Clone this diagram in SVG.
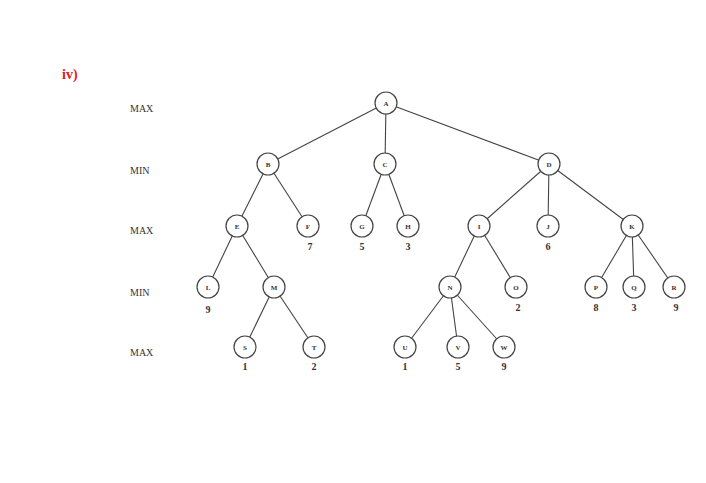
<svg xmlns="http://www.w3.org/2000/svg" width="706" height="483" viewBox="0 0 706 483">
<style>
.n circle{fill:#fff;stroke:#444;stroke-width:1.2}
.n text{font-family:"Liberation Serif",serif;font-size:7px;font-weight:bold;fill:#333;text-anchor:middle}
.v{font-family:"Liberation Serif",serif;font-size:10px;font-weight:bold;fill:#333;text-anchor:middle}
.lv{font-family:"Liberation Serif",serif;font-size:10px;fill:#333}
#edges line{stroke:#444;stroke-width:1.1}
</style>
<rect width="706" height="483" fill="#fff"/>
<text x="62" y="79" font-family="Liberation Serif,serif" font-size="14" font-weight="bold" fill="#e02020">iv)</text>
<text class="lv" x="130" y="112">MAX</text>
<text class="lv" x="130" y="174">MIN</text>
<text class="lv" x="130" y="234">MAX</text>
<text class="lv" x="130" y="296">MIN</text>
<text class="lv" x="130" y="356">MAX</text>
<g id="edges">
<line x1="386" y1="103" x2="268" y2="164"/><line x1="386" y1="103" x2="385" y2="164"/><line x1="386" y1="103" x2="549" y2="164"/>
<line x1="268" y1="164" x2="237" y2="226"/><line x1="268" y1="164" x2="308" y2="226"/>
<line x1="385" y1="164" x2="362" y2="226"/><line x1="385" y1="164" x2="408" y2="226"/>
<line x1="549" y1="164" x2="479" y2="226"/><line x1="549" y1="164" x2="548" y2="226"/><line x1="549" y1="164" x2="632" y2="226"/>
<line x1="237" y1="226" x2="208" y2="287"/><line x1="237" y1="226" x2="274" y2="287"/>
<line x1="479" y1="226" x2="450" y2="287"/><line x1="479" y1="226" x2="516" y2="287"/>
<line x1="632" y1="226" x2="596" y2="287"/><line x1="632" y1="226" x2="634" y2="287"/><line x1="632" y1="226" x2="674" y2="287"/>
<line x1="274" y1="287" x2="245" y2="347"/><line x1="274" y1="287" x2="314" y2="347"/>
<line x1="450" y1="287" x2="405" y2="347"/><line x1="450" y1="287" x2="458" y2="347"/><line x1="450" y1="287" x2="504" y2="347"/>
</g>
<g id="A" class="n"><circle cx="386" cy="103" r="11"/><text x="386" y="105.5">A</text></g>
<g id="B" class="n"><circle cx="268" cy="164" r="11"/><text x="268" y="166.5">B</text></g>
<g id="C" class="n"><circle cx="385" cy="164" r="11"/><text x="385" y="166.5">C</text></g>
<g id="D" class="n"><circle cx="549" cy="164" r="11"/><text x="549" y="166.5">D</text></g>
<g id="E" class="n"><circle cx="237" cy="226" r="11"/><text x="237" y="228.5">E</text></g>
<g id="F" class="n"><circle cx="308" cy="226" r="11"/><text x="308" y="228.5">F</text></g>
<g id="G" class="n"><circle cx="362" cy="226" r="11"/><text x="362" y="228.5">G</text></g>
<g id="H" class="n"><circle cx="408" cy="226" r="11"/><text x="408" y="228.5">H</text></g>
<g id="I" class="n"><circle cx="479" cy="226" r="11"/><text x="479" y="228.5">I</text></g>
<g id="J" class="n"><circle cx="548" cy="226" r="11"/><text x="548" y="228.5">J</text></g>
<g id="K" class="n"><circle cx="632" cy="226" r="11"/><text x="632" y="228.5">K</text></g>
<g id="L" class="n"><circle cx="208" cy="287" r="11"/><text x="208" y="289.5">L</text></g>
<g id="M" class="n"><circle cx="274" cy="287" r="11"/><text x="274" y="289.5">M</text></g>
<g id="N" class="n"><circle cx="450" cy="287" r="11"/><text x="450" y="289.5">N</text></g>
<g id="O" class="n"><circle cx="516" cy="287" r="11"/><text x="516" y="289.5">O</text></g>
<g id="P" class="n"><circle cx="596" cy="287" r="11"/><text x="596" y="289.5">P</text></g>
<g id="Q" class="n"><circle cx="634" cy="287" r="11"/><text x="634" y="289.5">Q</text></g>
<g id="R" class="n"><circle cx="674" cy="287" r="11"/><text x="674" y="289.5">R</text></g>
<g id="S" class="n"><circle cx="245" cy="347" r="11"/><text x="245" y="349.5">S</text></g>
<g id="T" class="n"><circle cx="314" cy="347" r="11"/><text x="314" y="349.5">T</text></g>
<g id="U" class="n"><circle cx="405" cy="347" r="11"/><text x="405" y="349.5">U</text></g>
<g id="V" class="n"><circle cx="458" cy="347" r="11"/><text x="458" y="349.5">V</text></g>
<g id="W" class="n"><circle cx="504" cy="347" r="11"/><text x="504" y="349.5">W</text></g>
<g id="values">
<text class="v" x="310" y="250">7</text><text class="v" x="362" y="250">5</text><text class="v" x="408" y="250">3</text><text class="v" x="548" y="250">6</text>
<text class="v" x="208" y="313">9</text><text class="v" x="518" y="311">2</text><text class="v" x="596" y="311">8</text><text class="v" x="634" y="311">3</text><text class="v" x="676" y="311">9</text>
<text class="v" x="245" y="370">1</text><text class="v" x="314" y="370">2</text><text class="v" x="405" y="370">1</text><text class="v" x="458" y="370">5</text><text class="v" x="504" y="370">9</text>
</g>
</svg>
